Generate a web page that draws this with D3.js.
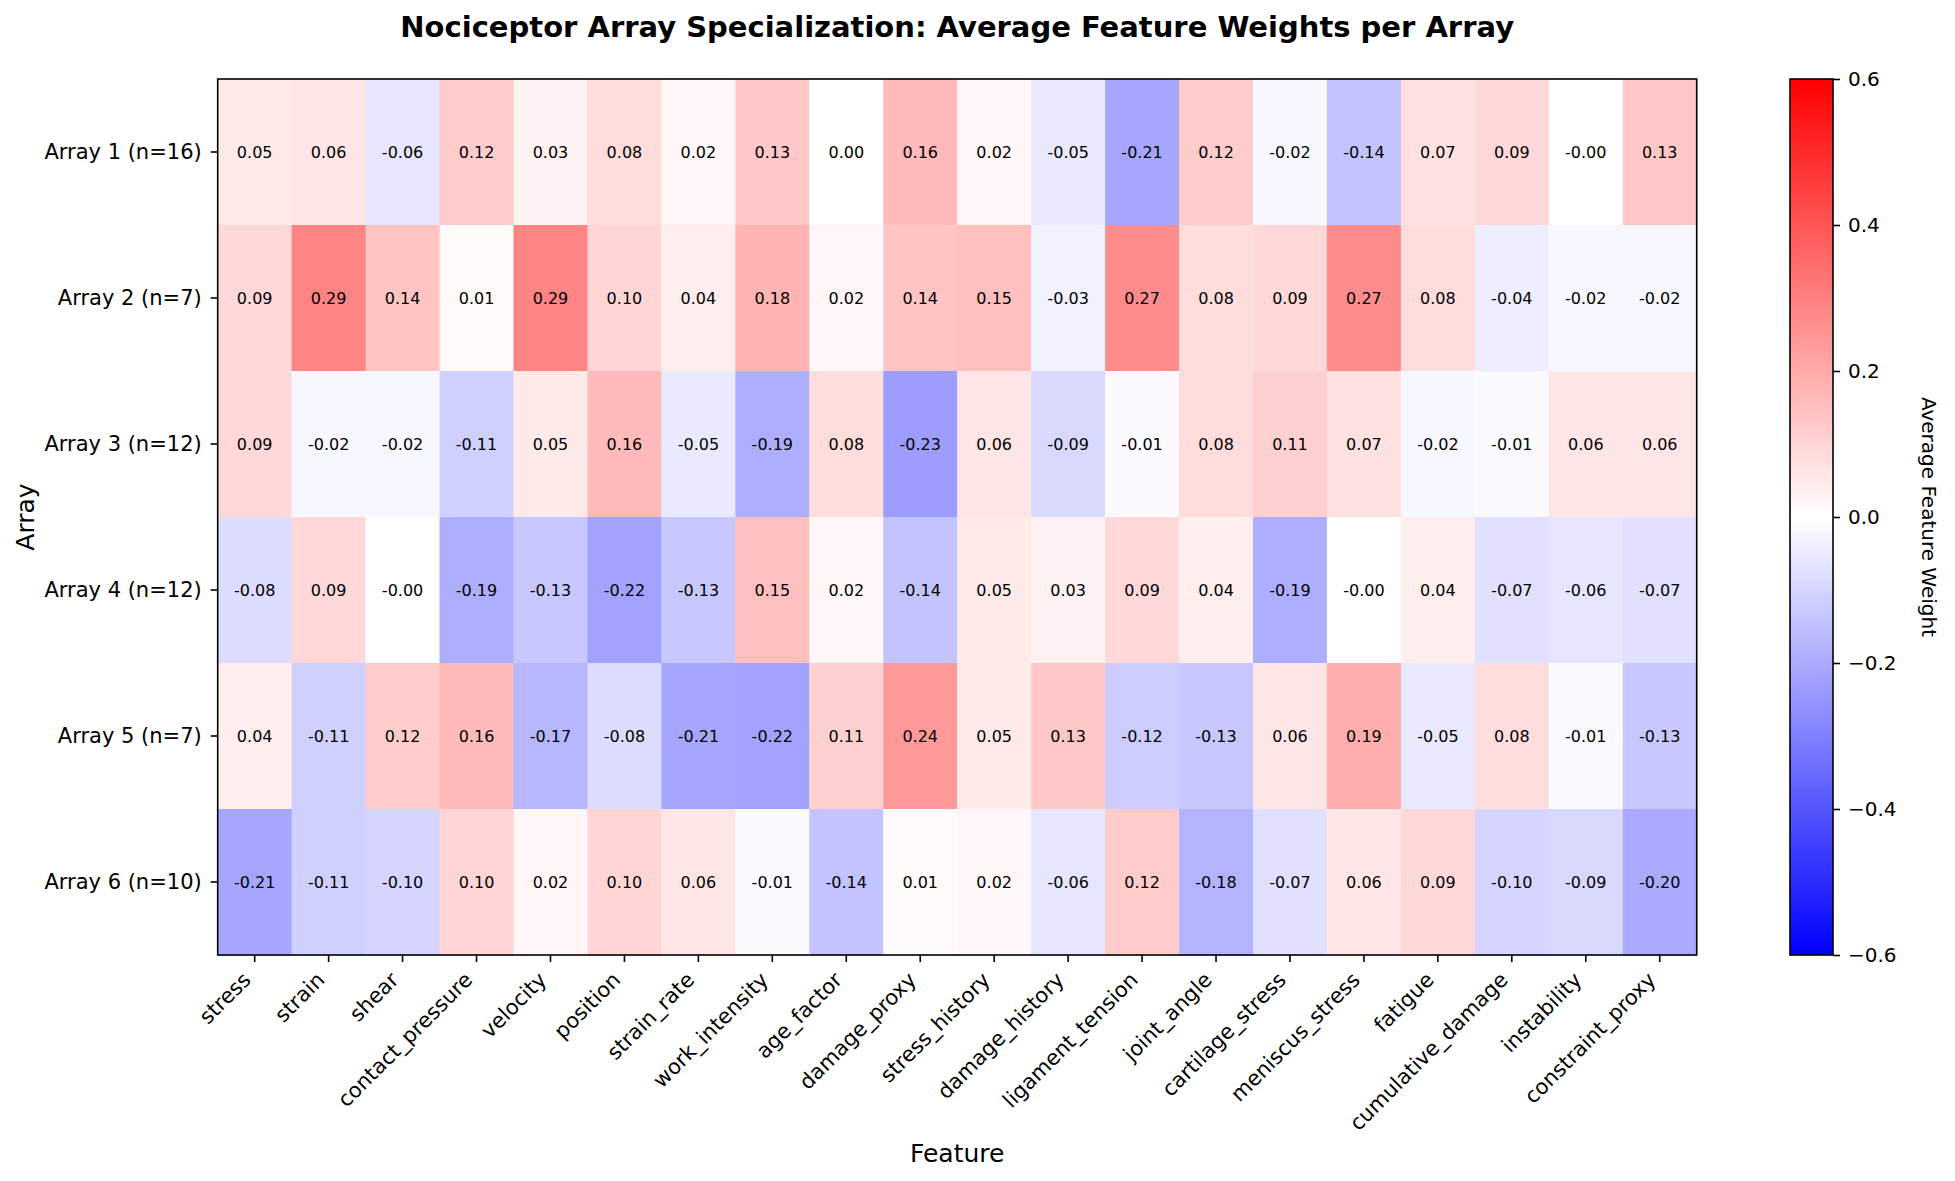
<!DOCTYPE html>
<html>
<head>
<meta charset="utf-8">
<script src="https://cdn.jsdelivr.net/npm/d3@7"></script>
<style>
  body { margin: 0; background: #fff; }
  text { font-family: "DejaVu Sans", sans-serif; fill: #000; }
  .domain { display: none; }
</style>
</head>
<body>
<div id="chart"></div>
<script>
// Data
let features = ["stress", "strain", "shear", "contact_pressure", "velocity", "position",
  "strain_rate", "work_intensity", "age_factor", "damage_proxy", "stress_history",
  "damage_history", "ligament_tension", "joint_angle", "cartilage_stress",
  "meniscus_stress", "fatigue", "cumulative_damage", "instability", "constraint_proxy"];

let arrays = ["Array 1 (n=16)", "Array 2 (n=7)", "Array 3 (n=12)",
  "Array 4 (n=12)", "Array 5 (n=7)", "Array 6 (n=10)"];

let array1 = [0.05, 0.06, -0.06, 0.12, 0.03, 0.08, 0.02, 0.13, 0.00, 0.16, 0.02, -0.05, -0.21, 0.12, -0.02, -0.14, 0.07, 0.09, -0.00, 0.13];
let array2 = [0.09, 0.29, 0.14, 0.01, 0.29, 0.10, 0.04, 0.18, 0.02, 0.14, 0.15, -0.03, 0.27, 0.08, 0.09, 0.27, 0.08, -0.04, -0.02, -0.02];
let array3 = [0.09, -0.02, -0.02, -0.11, 0.05, 0.16, -0.05, -0.19, 0.08, -0.23, 0.06, -0.09, -0.01, 0.08, 0.11, 0.07, -0.02, -0.01, 0.06, 0.06];
let array4 = [-0.08, 0.09, -0.00, -0.19, -0.13, -0.22, -0.13, 0.15, 0.02, -0.14, 0.05, 0.03, 0.09, 0.04, -0.19, -0.00, 0.04, -0.07, -0.06, -0.07];
let array5 = [0.04, -0.11, 0.12, 0.16, -0.17, -0.08, -0.21, -0.22, 0.11, 0.24, 0.05, 0.13, -0.12, -0.13, 0.06, 0.19, -0.05, 0.08, -0.01, -0.13];
let array6 = [-0.21, -0.11, -0.10, 0.10, 0.02, 0.10, 0.06, -0.01, -0.14, 0.01, 0.02, -0.06, 0.12, -0.18, -0.07, 0.06, 0.09, -0.10, -0.09, -0.20];

let colorTicks = [-0.6, -0.4, -0.2, 0.0, 0.2, 0.4, 0.6];

// Layout
let width = 1955;
let height = 1181;
let plotLeft = 217.7, plotTop = 79, plotRight = 1696.7, plotBottom = 955;
let cbLeft = 1790, cbRight = 1833;
let tickLen = 7;

let svg = d3.select("#chart").append("svg")
  .attr("width", width)
  .attr("height", height);

// build cells
let rows = [array1, array2, array3, array4, array5, array6];
let cells = [];
rows.forEach(function(vals, i) {
  vals.forEach(function(v, j) {
    cells.push({ row: arrays[i], col: features[j], value: v });
  });
});

// keep the sign of -0.00 like the original annotations
function fmt(v) {
  if (v < 0 || Object.is(v, -0)) return "-" + Math.abs(v).toFixed(2);
  return v.toFixed(2);
}

let xScale = d3.scaleBand().domain(features).range([plotLeft, plotRight]).padding(0);
let yScale = d3.scaleBand().domain(arrays).range([plotTop, plotBottom]).padding(0);

// bwr colormap
let color = d3.scaleLinear().domain([-0.6, 0, 0.6]).range(["#0000ff", "#ffffff", "#ff0000"]).clamp(true);

svg.append("g").selectAll("rect")
  .data(cells)
  .enter()
  .append("rect")
  .attr("x", function(d) { return xScale(d.col); })
  .attr("y", function(d) { return yScale(d.row); })
  .attr("width", xScale.bandwidth() + 0.5)
  .attr("height", yScale.bandwidth() + 0.5)
  .attr("fill", function(d) { return color(d.value); });

// cell values
svg.append("g").selectAll("text")
  .data(cells)
  .enter()
  .append("text")
  .attr("x", function(d) { return xScale(d.col) + xScale.bandwidth() / 2; })
  .attr("y", function(d) { return yScale(d.row) + yScale.bandwidth() / 2; })
  .attr("dy", "0.36em")
  .attr("text-anchor", "middle")
  .attr("font-size", 16)
  .text(function(d) { return fmt(d.value); });

// frame
svg.append("rect")
  .attr("x", plotLeft).attr("y", plotTop)
  .attr("width", plotRight - plotLeft).attr("height", plotBottom - plotTop)
  .attr("fill", "none").attr("stroke", "#000").attr("stroke-width", 1.6);

// x axis
let xAxis = svg.append("g")
  .attr("transform", "translate(0," + plotBottom + ")")
  .call(d3.axisBottom(xScale).tickSize(tickLen).tickSizeOuter(0));
xAxis.selectAll("line").attr("stroke", "#000").attr("stroke-width", 1.6);
xAxis.selectAll("text")
  .attr("font-size", 21)
  .attr("text-anchor", "end")
  .attr("y", 0).attr("dy", "0.35em")
  .attr("transform", "translate(-8," + (tickLen + 14) + ") rotate(-45)");

// y axis
let yAxis = svg.append("g")
  .attr("transform", "translate(" + plotLeft + ",0)")
  .call(d3.axisLeft(yScale).tickSize(tickLen).tickSizeOuter(0).tickPadding(9));
yAxis.selectAll("line").attr("stroke", "#000").attr("stroke-width", 1.6);
yAxis.selectAll("text").attr("font-size", 21);

// axis labels
svg.append("text")
  .attr("x", (plotLeft + plotRight) / 2).attr("y", 1162)
  .attr("text-anchor", "middle").attr("font-size", 25)
  .text("Feature");

svg.append("text")
  .attr("transform", "translate(34," + ((plotTop + plotBottom) / 2) + ") rotate(-90)")
  .attr("text-anchor", "middle").attr("font-size", 25)
  .text("Array");

// title
svg.append("text")
  .attr("x", (plotLeft + plotRight) / 2).attr("y", 37)
  .attr("text-anchor", "middle").attr("font-size", 29).attr("font-weight", "bold")
  .text("Nociceptor Array Specialization: Average Feature Weights per Array");

// colorbar
let defs = svg.append("defs");
let grad = defs.append("linearGradient")
  .attr("id", "bwr").attr("x1", 0).attr("y1", 1).attr("x2", 0).attr("y2", 0);
grad.append("stop").attr("offset", "0%").attr("stop-color", color(-0.6));
grad.append("stop").attr("offset", "50%").attr("stop-color", color(0));
grad.append("stop").attr("offset", "100%").attr("stop-color", color(0.6));

svg.append("rect")
  .attr("x", cbLeft).attr("y", plotTop)
  .attr("width", cbRight - cbLeft).attr("height", plotBottom - plotTop)
  .attr("fill", "url(#bwr)")
  .attr("stroke", "#000").attr("stroke-width", 1.6);

let cScale = d3.scaleLinear().domain([-0.6, 0.6]).range([plotBottom, plotTop]);
let cAxis = svg.append("g")
  .attr("transform", "translate(" + cbRight + ",0)")
  .call(d3.axisRight(cScale).tickValues(colorTicks).tickSize(tickLen).tickPadding(8)
    .tickFormat(function(d) { return d3.format(".1f")(d).replace("-", "\u2212"); }));
cAxis.selectAll("line").attr("stroke", "#000").attr("stroke-width", 1.6);
cAxis.selectAll("text").attr("font-size", 20);

svg.append("text")
  .attr("transform", "translate(1922," + ((plotTop + plotBottom) / 2) + ") rotate(90)")
  .attr("text-anchor", "middle").attr("font-size", 20)
  .text("Average Feature Weight");
</script>
</body>
</html>
